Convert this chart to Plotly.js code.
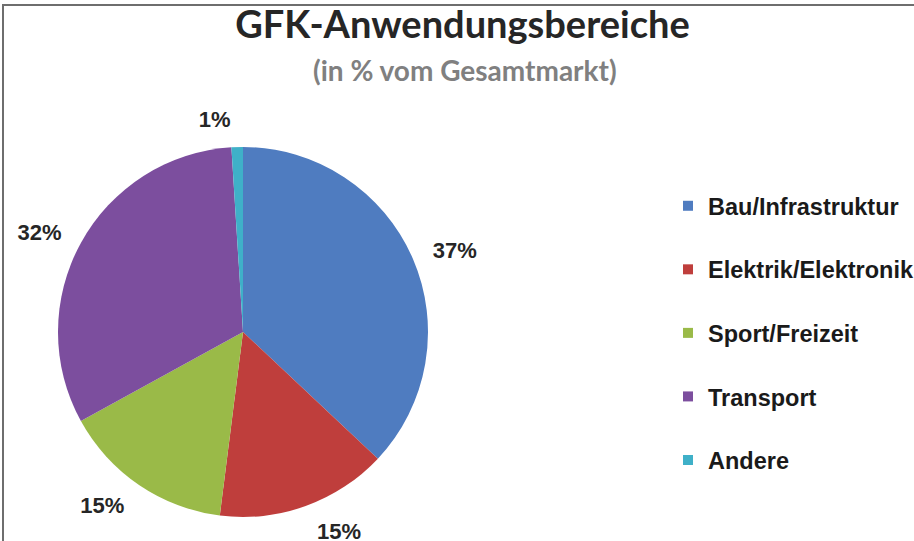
<!DOCTYPE html>
<html>
<head>
<meta charset="utf-8">
<script src="https://cdn.plot.ly/plotly-3.0.1.min.js"></script>
<style>html,body{margin:0;padding:0;background:#fff;}#chart{width:914px;height:541px;}</style>
</head>
<body>
<div id="chart"></div>
<script>
const categories = ["Bau/Infrastruktur", "Elektrik/Elektronik", "Sport/Freizeit", "Transport", "Andere"];
const shares = [37, 15, 15, 32, 1];
const titleText = "GFK-Anwendungsbereiche";
const subtitleText = "(in % vom Gesamtmarkt)";

const palette = ["#4F7CC0", "#BF3E3C", "#9ABA48", "#7C4E9E", "#3FB0C8"];

// pie geometry (pixels): centre and radius of the drawn disc
const cx = 243, cy = 332, R = 185, labelPad = 15;
const W = 914, H = 541;

const pieTrace = {
  type: "pie",
  labels: categories,
  values: shares,
  sort: false,
  direction: "clockwise",
  rotation: 0,
  marker: {colors: palette, line: {width: 0}},
  textinfo: "none",
  showlegend: false,
  hoverinfo: "label+percent",
  domain: {x: [(cx - R)/W, (cx + R)/W], y: [(H - cy - R)/H, (H - cy + R)/H]}
};

// transparent companion pie, slightly larger, that carries the percentage labels
const labelTrace = {
  type: "pie",
  labels: categories,
  values: shares,
  sort: false,
  direction: "clockwise",
  rotation: 0,
  marker: {colors: categories.map(() => "rgba(0,0,0,0)"), line: {width: 0}},
  textinfo: "percent",
  texttemplate: "%{percent:.0%}",
  textposition: "outside",
  outsidetextfont: {family: "Liberation Sans, Arial, sans-serif", size: 22, color: "#262626", weight: "bold"},
  showlegend: false,
  hoverinfo: "skip",
  domain: {x: [(cx - R - labelPad)/W, (cx + R + labelPad)/W], y: [(H - cy - R - labelPad)/H, (H - cy + R + labelPad)/H]}
};

const legendTraces = categories.map((c, i) => ({
  type: "scatter",
  mode: "markers",
  x: [null], y: [null],
  name: c,
  legendgroup: "g" + i,
  marker: {symbol: "square", size: 10, color: palette[i]},
  showlegend: true,
  hoverinfo: "skip"
}));

const layout = {
  width: W, height: H,
  margin: {l: 0, r: 0, t: 0, b: 0, autoexpand: false},
  paper_bgcolor: "#ffffff",
  plot_bgcolor: "rgba(0,0,0,0)",
  xaxis: {visible: false},
  yaxis: {visible: false},
  title: {
    text: "<b>" + titleText + "</b>",
    font: {family: "Lato, Open Sans, sans-serif", size: 38, color: "#262626"},
    x: 0.506, xanchor: "center",
    y: 1 - 25/541, yref: "container", yanchor: "middle"
  },
  annotations: [{
    text: "<b>" + subtitleText + "</b>",
    font: {family: "Lato, Open Sans, sans-serif", size: 28, color: "#808080"},
    xref: "paper", yref: "paper",
    x: 465/914, y: 1 - 70/541, xanchor: "center", yanchor: "middle",
    showarrow: false
  }],
  legend: {
    x: 668/914, xanchor: "left",
    y: 1 - 184/541, yanchor: "top",
    font: {family: "Liberation Sans, Arial, sans-serif", size: 23.5, color: "#1a1a1a", weight: "bold"},
    tracegroupgap: 30,
    bgcolor: "rgba(0,0,0,0)"
  },
  shapes: [{
    type: "rect", xref: "paper", yref: "paper",
    x0: 3/914, x1: 1.2, y0: -0.2, y1: 1 - 5/541,
    line: {color: "#6e6e6e", width: 2}, layer: "below"
  }]
};

Plotly.newPlot("chart", [pieTrace, labelTrace].concat(legendTraces), layout, {displayModeBar: false, staticPlot: true});
</script>
</body>
</html>
